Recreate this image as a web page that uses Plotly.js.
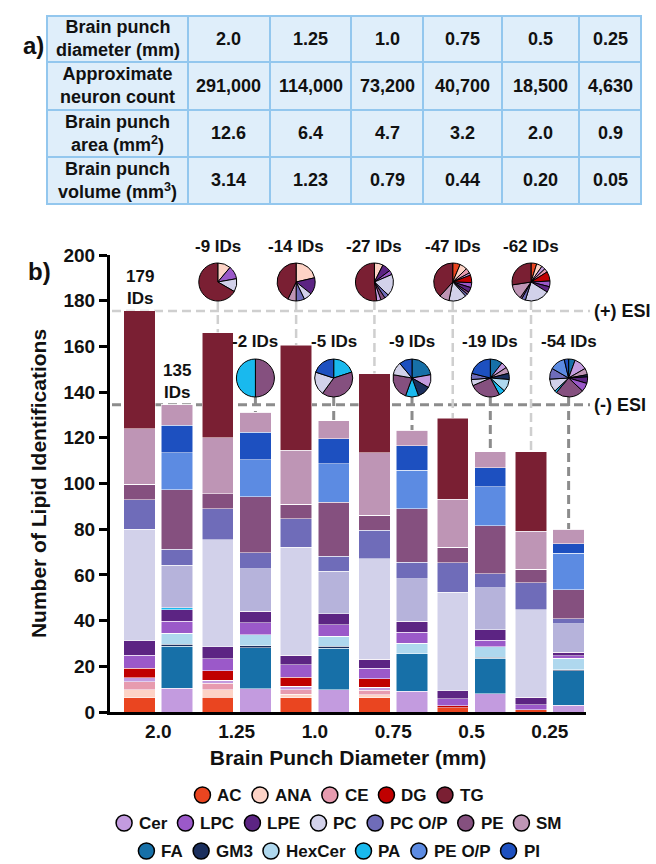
<!DOCTYPE html>
<html>
<head>
<meta charset="utf-8">
<script src="https://cdn.plot.ly/plotly-3.0.1.min.js"></script>
<style>
html,body{margin:0;padding:0;background:#ffffff;}
#chart{width:656px;height:864px;}
</style>
</head>
<body>
<div id="chart"></div>
<script>
// ================= DATA =================
// a) table
const tableRowLabels = ["Brain punch<br>diameter (mm)", "Approximate<br>neuron count", "Brain punch<br>area (mm<sup>2</sup>)", "Brain punch<br>volume (mm<sup>3</sup>)"];
const diameters    = ["2.0", "1.25", "1.0", "0.75", "0.5", "0.25"];
const neuronCounts = ["291,000", "114,000", "73,200", "40,700", "18,500", "4,630"];
const punchAreas   = ["12.6", "6.4", "4.7", "3.2", "2.0", "0.9"];
const punchVolumes = ["3.14", "1.23", "0.79", "0.44", "0.20", "0.05"];

// b) lipid classes (legend order) and colours
const lipidClasses = ["AC","ANA","CE","DG","TG","Cer","LPC","LPE","PC","PC O/P","PE","SM","FA","GM3","HexCer","PA","PE O/P","PI"];
const classColors  = ["#EA4520","#FDD3C6","#E79BAF","#C00000","#7A1F33","#C39BDF","#9B59C9","#5C2483","#D2D1EA","#6F6CB9","#85507F","#BE95B5","#1770A8","#1B2F5E","#AFD8EE","#19B9EE","#5C8BE2","#1D50C0"];
const pcNegColor = "#B6B3DB";

// (+) ESI identifications per class, per diameter (2.0 ... 0.25)
const posAC   = [6.3, 6.5, 6.3, 6.3, 1.8, 0.9];
const posANA  = [3.4, 3.3, 1.5, 1.2, 0, 0];
const posCE   = [3.5, 2.7, 2.0, 2.0, 0, 0];
const posCer  = [1.7, 1.3, 1.5, 1.3, 0, 0];
const posDG   = [4.3, 4.2, 4.0, 3.8, 1.0, 0];
const posLPC  = [5.7, 5.3, 5.3, 4.5, 3.0, 2.3];
const posLPE  = [6.3, 5.2, 4.2, 4.0, 3.6, 3.3];
const posPC   = [48.8, 46.9, 47.2, 43.9, 43.1, 38.3];
const posPCOP = [12.9, 13.6, 12.5, 12.5, 12.9, 11.7];
const posPE   = [6.7, 6.6, 6.5, 6.5, 6.6, 6.0];
const posSM   = [24.4, 24.5, 23.5, 27.5, 21.0, 16.5];
const posTG   = [51.5, 45.9, 46.0, 34.5, 35.5, 35.0];

// (-) ESI identifications per class, per diameter
const negCer    = [10.5, 10.2, 9.8, 9.0, 8.0, 3.0];
const negFA     = [18.3, 18.0, 18.0, 16.5, 15.5, 15.0];
const negGM3    = [0.9, 0.9, 0.9, 0, 0.5, 0.5];
const negHexCer = [4.8, 4.8, 4.5, 4.5, 4.5, 5.0];
const negLPC    = [5.2, 5.2, 4.9, 5.0, 2.8, 1.2];
const negLPE    = [5.0, 5.0, 5.0, 4.8, 4.6, 1.5];
const negPA     = [1.0, 0, 0, 0, 0, 0];
const negPC     = [18.5, 18.5, 18.5, 18.6, 18.5, 12.5];
const negPCOP   = [7.0, 7.0, 6.5, 7.2, 6.2, 2.2];
const negPE     = [26.0, 24.5, 23.8, 23.3, 21.0, 12.5];
const negPEOP   = [16.3, 16.3, 16.8, 16.8, 17.0, 16.0];
const negPI     = [12.0, 12.0, 10.9, 10.9, 8.3, 4.2];
const negSM     = [9.0, 8.8, 7.9, 6.7, 7.1, 6.4];

const totalIDLabels = ["179<br>IDs", "135<br>IDs"];

// lost identifications relative to 2.0 mm (pies), (+) ESI, diameters 1.25 ... 0.25
const piePos125Labels = ["ANA","LPC","PC","TG"];
const piePos125Values = [1, 1, 1, 6];
const piePos100Labels = ["ANA","LPE","PC","PC O/P","SM","TG"];
const piePos100Values = [3, 2, 1, 1, 1, 6];
const piePos075Labels = ["ANA","LPE","LPC","PC","PC O/P","PE","Cer","TG"];
const piePos075Values = [2, 2, 1, 5, 1, 1, 1, 14];
const piePos050Labels = ["AC","ANA","CE","Cer","DG","LPC","LPE","PE","PC O/P","PC","SM","TG"];
const piePos050Values = [3, 3, 2, 1, 3, 2, 2, 1, 1, 7, 4, 18];
const piePos025Labels = ["AC","ANA","Cer","CE","DG","LPC","LPE","PC","PC O/P","PE","SM","TG"];
const piePos025Values = [3, 3, 2, 2, 5, 3, 3, 13, 2, 1, 8, 17];
// (-) ESI
const pieNeg125Labels = ["PE","PA"];
const pieNeg125Values = [1, 1];
const pieNeg100Labels = ["PA","PE","PC","PI"];
const pieNeg100Values = [1, 2, 1, 1];
const pieNeg075Labels = ["FA","Cer","GM3","PA","PE","PC","PI"];
const pieNeg075Values = [2, 1, 1, 1, 2, 1, 1];
const pieNeg050Labels = ["FA","Cer","SM","GM3","HexCer","PA","PE","PC","PC O/P","PI"];
const pieNeg050Values = [2, 1, 1, 1, 2, 1, 5, 1, 1, 4];
const pieNeg025Labels = ["FA","Cer","SM","GM3","LPE","LPC","PE","PA","PC","PC O/P","PE O/P","PI"];
const pieNeg025Values = [3, 6, 3, 1, 3, 4, 13, 1, 6, 5, 7, 2];

// ================= LAYOUT HELPERS =================
const W = 656, H = 864;
const plotL = 110, plotR = 586, plotT = 255, plotB = 712;
const xr = [-0.377, 5.702];
const yMax = 200;
const pairOffset = 0.48, barW = 0.4;
const FONT = 'Arial, "Liberation Sans", Helvetica, sans-serif';

const pxX = px => px / W;
const pyY = py => 1 - py / H;
const dataX2px = x => plotL + (x - xr[0]) / (xr[1] - xr[0]) * (plotR - plotL);
const py2data = py => (plotB - py) / (plotB - plotT) * yMax;

const colorOf = {};
lipidClasses.forEach((c, i) => colorOf[c] = classColors[i]);

const posSeries = {"AC":posAC,"ANA":posANA,"CE":posCE,"Cer":posCer,"DG":posDG,"LPC":posLPC,"LPE":posLPE,"PC":posPC,"PC O/P":posPCOP,"PE":posPE,"SM":posSM,"TG":posTG};
const negSeries = {"Cer":negCer,"FA":negFA,"GM3":negGM3,"HexCer":negHexCer,"LPC":negLPC,"LPE":negLPE,"PA":negPA,"PC":negPC,"PC O/P":negPCOP,"PE":negPE,"PE O/P":negPEOP,"PI":negPI,"SM":negSM};
const stackOrder = ["AC","ANA","CE","Cer","FA","GM3","HexCer","DG","LPC","LPE","PA","PC","PC O/P","PE","PE O/P","PI","SM","TG"];

const nCat = diameters.length;
const posX = diameters.map((d, i) => i);
const negX = diameters.map((d, i) => i + pairOffset);
const zeros = diameters.map(() => 0);

const traces = [];
stackOrder.forEach(cls => {
  const pv = posSeries[cls] || zeros;
  const nv = negSeries[cls] || zeros;
  const col = colorOf[cls];
  const colors = posX.map(() => col).concat(negX.map(() => cls === "PC" ? pcNegColor : col));
  traces.push({
    type: 'bar', name: cls,
    x: posX.concat(negX), y: pv.concat(nv),
    width: barW,
    marker: {color: colors, line: {color: 'rgba(255,255,255,0.85)', width: 0.6}},
    hoverinfo: 'skip', showlegend: false
  });
});

const posTotal = posX.map((_, i) => Object.values(posSeries).reduce((s, a) => s + a[i], 0));
const negTotal = negX.map((_, i) => Object.values(negSeries).reduce((s, a) => s + a[i], 0));

// pies
const pieR = 19, pieTopY = 282, pieBotY = 378;
const posPies = [[piePos125Labels, piePos125Values],[piePos100Labels, piePos100Values],[piePos075Labels, piePos075Values],[piePos050Labels, piePos050Values],[piePos025Labels, piePos025Values]];
const negPies = [[pieNeg125Labels, pieNeg125Values],[pieNeg100Labels, pieNeg100Values],[pieNeg075Labels, pieNeg075Values],[pieNeg050Labels, pieNeg050Values],[pieNeg025Labels, pieNeg025Values]];

const annotations = [];
const shapes = [];

function addPie(labels, values, cx, cy) {
  traces.push({
    type: 'pie', labels: labels, values: values, sort: false, direction: 'clockwise', rotation: 0,
    marker: {colors: labels.map(l => colorOf[l]), line: {color: '#000000', width: 1}},
    textinfo: 'none', hoverinfo: 'skip', showlegend: false,
    domain: {x: [pxX(cx - pieR), pxX(cx + pieR)], y: [pyY(cy + pieR), pyY(cy - pieR)]}
  });
  const lost = values.reduce((s, v) => s + v, 0);
  annotations.push({xref: 'paper', yref: 'paper', x: pxX(cx), y: pyY(cy - pieR - 17), text: '-' + lost + ' IDs',
    showarrow: false, xanchor: 'center', yanchor: 'middle', font: {family: FONT, size: 17, color: '#111', weight: 'bold'}});
}
posPies.forEach((p, k) => addPie(p[0], p[1], dataX2px(posX[k + 1]), pieTopY));
negPies.forEach((p, k) => addPie(p[0], p[1], dataX2px(negX[k + 1]), pieBotY));

// ESI reference lines
const lineEnd = 590;
shapes.push({type: 'line', layer: 'below', xref: 'paper', yref: 'y', x0: pxX(plotL + 2), x1: pxX(lineEnd), y0: posTotal[0], y1: posTotal[0],
  line: {color: '#CFCFCF', width: 2.5, dash: '9px,5px'}});
shapes.push({type: 'line', layer: 'below', xref: 'paper', yref: 'y', x0: pxX(plotL + 2), x1: pxX(lineEnd), y0: negTotal[0], y1: negTotal[0],
  line: {color: '#8C8C8C', width: 3, dash: '9px,5px'}});
for (let i = 1; i < nCat; i++) {
  shapes.push({type: 'line', layer: 'below', xref: 'x', yref: 'y', x0: posX[i], x1: posX[i], y0: py2data(pieTopY + pieR), y1: posTotal[i],
    line: {color: '#CFCFCF', width: 2.5, dash: '9px,5px'}});
  shapes.push({type: 'line', layer: 'below', xref: 'x', yref: 'y', x0: negX[i], x1: negX[i], y0: py2data(pieBotY + pieR), y1: negTotal[i],
    line: {color: '#8C8C8C', width: 3, dash: '9px,5px'}});
}
annotations.push({xref: 'paper', yref: 'y', x: pxX(592), y: posTotal[0], text: '(+) ESI', showarrow: false, xanchor: 'left', yanchor: 'middle',
  font: {family: FONT, size: 18, color: '#111', weight: 'bold'}});
annotations.push({xref: 'paper', yref: 'y', x: pxX(592), y: negTotal[0], text: '(-) ESI', showarrow: false, xanchor: 'left', yanchor: 'middle',
  font: {family: FONT, size: 18, color: '#111', weight: 'bold'}});
annotations.push({xref: 'x', yref: 'y', x: posX[0], y: posTotal[0], yshift: 1, text: totalIDLabels[0], showarrow: false, xanchor: 'center', yanchor: 'bottom',
  font: {family: FONT, size: 17, color: '#111', weight: 'bold'}});
annotations.push({xref: 'x', yref: 'y', x: negX[0], y: negTotal[0], yshift: 1, text: totalIDLabels[1], showarrow: false, xanchor: 'center', yanchor: 'bottom',
  font: {family: FONT, size: 17, color: '#111', weight: 'bold'}});

// panel letters
annotations.push({xref: 'paper', yref: 'paper', x: pxX(21), y: pyY(30), text: 'a)', showarrow: false, font: {family: FONT, size: 24, color: '#111', weight: 'bold'}});
annotations.push({xref: 'paper', yref: 'paper', x: pxX(26), y: pyY(256), text: 'b)', showarrow: false, font: {family: FONT, size: 24, color: '#111', weight: 'bold'}});

// table a)
const colEdges = [47, 188, 270, 351, 423, 502, 579, 641];
const rowEdges = [16, 62, 110, 157, 204];
const tableRows = [diameters, neuronCounts, punchAreas, punchVolumes];
for (let r = 0; r < tableRows.length; r++) {
  const cells = [tableRowLabels[r]].concat(tableRows[r]);
  for (let c = 0; c < cells.length; c++) {
    const x0 = colEdges[c], x1 = colEdges[c + 1], y0 = rowEdges[r], y1 = rowEdges[r + 1];
    shapes.push({type: 'rect', xref: 'paper', yref: 'paper', x0: pxX(x0), x1: pxX(x1), y0: pyY(y1), y1: pyY(y0),
      fillcolor: '#DFEEFA', line: {color: '#93C7EE', width: 2}, layer: 'below'});
    annotations.push({xref: 'paper', yref: 'paper', x: pxX((x0 + x1) / 2), y: pyY((y0 + y1) / 2), text: cells[c], showarrow: false,
      xanchor: 'center', yanchor: 'middle', align: 'center', font: {family: FONT, size: 18, color: '#111', weight: 'bold'}});
  }
}

// legend (custom, three centred rows)
const legendRowSizes = [5, 7, 6];
const legendRowY = [795, 823, 851];
const legendCenterX = 338;
const cv = document.createElement('canvas').getContext('2d');
cv.font = 'bold 17px ' + FONT;
let k0 = 0;
legendRowSizes.forEach((n, r) => {
  const items = lipidClasses.slice(k0, k0 + n);
  k0 += n;
  const dia = 16, gap = 5, spacing = 12;
  const widths = items.map(t => dia + gap + cv.measureText(t).width);
  const total = widths.reduce((s, w) => s + w, 0) + spacing * (n - 1);
  let x = legendCenterX - total / 2;
  const cy = legendRowY[r];
  items.forEach((t, j) => {
    shapes.push({type: 'circle', xref: 'paper', yref: 'paper', x0: pxX(x), x1: pxX(x + dia), y0: pyY(cy + dia / 2), y1: pyY(cy - dia / 2),
      fillcolor: colorOf[t], line: {color: '#000', width: 1.5}});
    annotations.push({xref: 'paper', yref: 'paper', x: pxX(x + dia + gap), y: pyY(cy), text: t, showarrow: false, xanchor: 'left', yanchor: 'middle',
      font: {family: FONT, size: 17, color: '#111', weight: 'bold'}});
    x += widths[j] + spacing;
  });
});

const layout = {
  width: W, height: H,
  margin: {l: 0, r: 0, t: 0, b: 0},
  paper_bgcolor: '#ffffff', plot_bgcolor: 'rgba(0,0,0,0)',
  barmode: 'stack', bargap: 0,
  showlegend: false,
  font: {family: FONT, color: '#111'},
  xaxis: {
    domain: [pxX(plotL), pxX(plotR)], range: xr, fixedrange: true,
    tickvals: posX.map(v => v + pairOffset / 2), ticktext: diameters,
    ticks: '', showline: true, linecolor: '#000', linewidth: 3, showgrid: false, zeroline: false,
    tickfont: {family: FONT, size: 19, color: '#111', weight: 'bold'},
    title: {text: 'Brain Punch Diameter (mm)', font: {family: FONT, size: 21, color: '#111', weight: 'bold'}, standoff: 10}
  },
  yaxis: {
    domain: [pyY(plotB), pyY(plotT)], range: [0, yMax], fixedrange: true,
    tickmode: 'linear', tick0: 0, dtick: 20,
    ticks: 'outside', ticklen: 8, tickwidth: 3, tickcolor: '#000',
    showline: true, linecolor: '#000', linewidth: 3, showgrid: false, zeroline: false,
    tickfont: {family: FONT, size: 19, color: '#111', weight: 'bold'},
    title: {text: 'Number of Lipid Identifications', font: {family: FONT, size: 21, color: '#111', weight: 'bold'}, standoff: 12}
  },
  shapes: shapes,
  annotations: annotations
};

Plotly.newPlot('chart', traces, layout, {displayModeBar: false, staticPlot: true});
</script>
</body>
</html>
